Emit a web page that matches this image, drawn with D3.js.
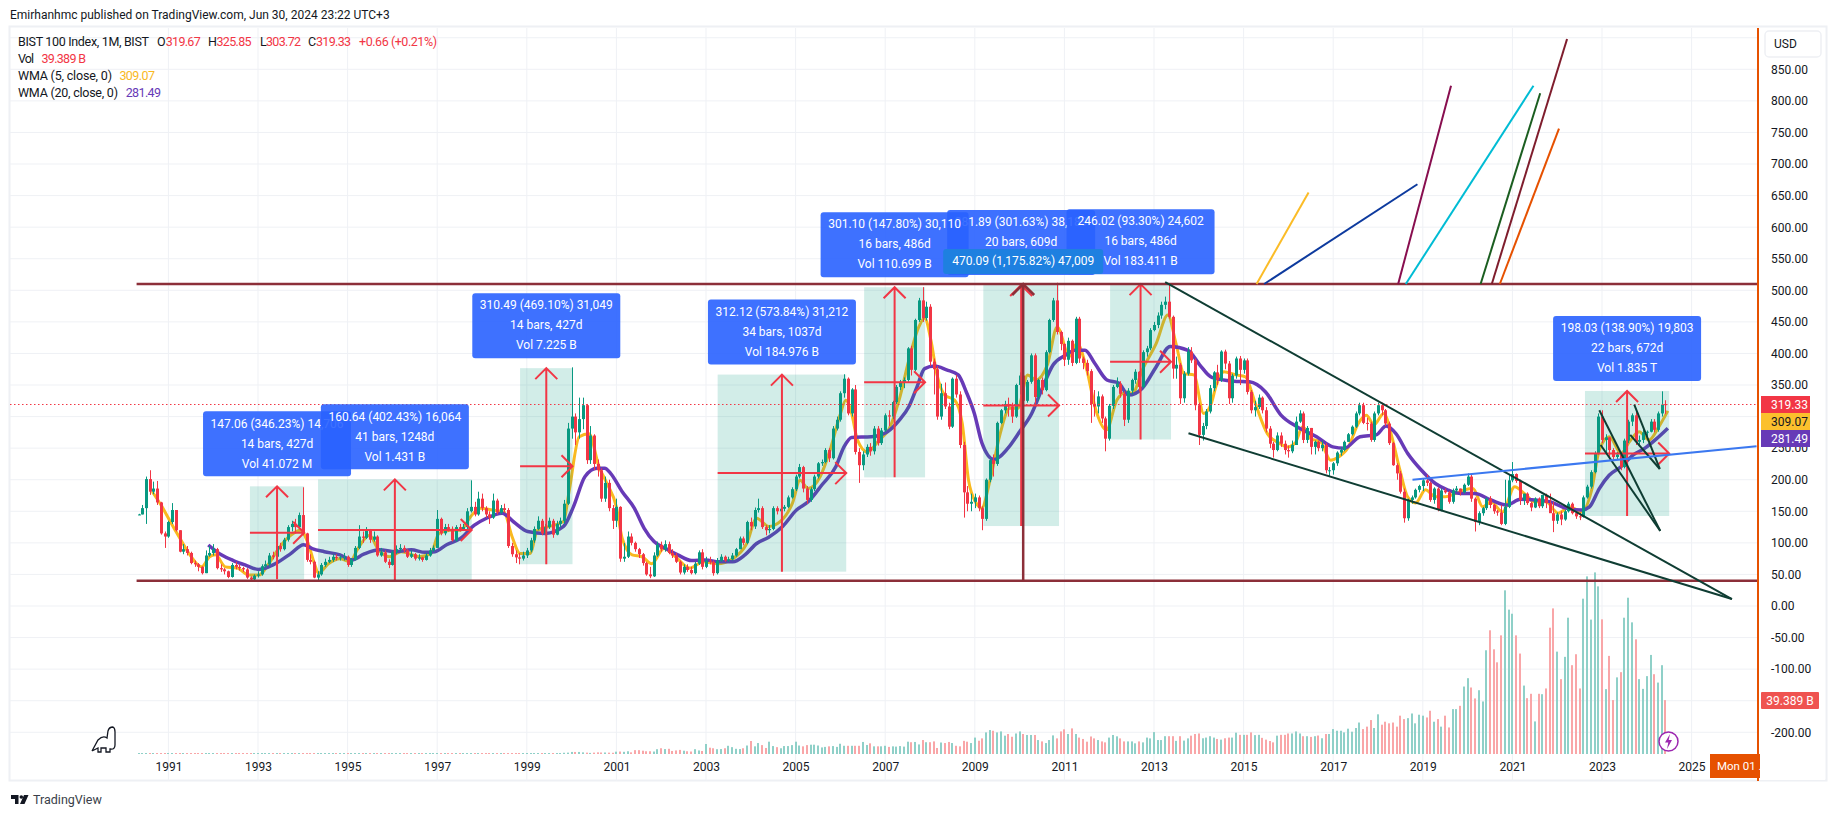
<!DOCTYPE html>
<html>
<head>
<meta charset="utf-8">
<title>BIST 100 Index, 1M</title>
<script src="https://cdn.jsdelivr.net/npm/d3@7"></script>
<style>
    html, body { margin: 0; padding: 0; background: #fff; overflow: hidden; }
    text { font-family: Roboto, "Noto Sans", sans-serif; }
</style>
</head>
<body>
<div id="chart"></div>
<script>
// Monthly bars, May 1990 to June 2024. The open of a bar is the close before it.
const firstBarYear = 1990 + 4 / 12;
const firstOpen = 145;
const lastOpen = 319.67;

const closes = [
    145,155,201,181,186,164,115,110,
    133,152,120,86,90,84,68,66,62,52,80,84,
    90,60,58,55,46,65,62,60,58,45,42,48,
    50,63,66,80,78,95,90,105,125,130,125,144,
    115,73,70,45,50,65,70,73,78,76,77,78,
    65,73,92,110,108,120,105,110,80,85,70,65,
    85,90,92,88,78,82,75,77,73,80,88,92,
    138,115,125,122,104,125,122,125,150,157,145,170,
    155,145,140,167,148,155,152,95,82,77,75,80,
    88,104,122,135,115,125,135,113,130,135,162,281,
    300,275,296,318,231,270,225,215,170,195,155,135,
    157,75,78,110,100,90,82,68,50,47,80,97,
    90,98,84,80,70,53,62,57,52,67,85,62,
    72,70,52,72,78,72,74,80,90,107,100,133,
    126,152,155,125,120,122,155,150,154,157,172,185,
    205,220,186,168,185,205,226,228,247,234,281,295,
    337,360,305,343,244,223,240,252,245,281,258,278,
    302,300,323,347,355,358,408,374,453,484,456,474,
    387,375,300,337,316,284,360,335,255,180,162,165,
    172,155,138,200,231,225,290,310,320,316,300,350,
    365,325,355,397,331,358,342,402,453,484,434,415,
    390,420,385,455,392,385,372,320,316,332,297,265,
    317,347,352,336,295,341,358,371,347,402,408,437,
    445,460,477,482,458,376,382,329,368,403,389,318,
    271,285,308,345,370,358,403,384,329,365,392,374,
    389,339,310,315,330,310,281,257,247,270,257,247,
    245,255,292,305,263,282,252,260,250,255,215,215,
    226,243,247,260,272,284,305,318,290,289,263,305,
    318,310,289,258,223,210,181,139,168,172,184,190,
    199,195,168,186,152,183,180,165,183,186,180,192,
    205,170,133,147,155,170,160,150,148,130,157,199,
    209,198,168,178,163,156,170,158,176,163,147,135,
    145,137,150,162,147,142,141,172,189,212,242,300,
    263,267,247,236,240,220,262,292,302,260,263,275,
    276,292,279,305,319,319.33
];

const highs = [
    146,160,205,215,197,198,165,118,
    135,163,152,120,98,95,86,72,68,63,88,95,
    98,92,66,60,56,68,70,66,62,60,47,50,
    55,66,72,84,86,100,100,108,128,135,138,148,
    188,116,82,72,55,68,75,78,82,82,80,84,
    80,76,95,128,118,125,122,118,112,92,88,74,
    88,96,98,96,90,88,84,82,78,84,92,96,
    152,140,130,130,126,128,130,130,155,199,165,181,
    178,158,150,178,170,160,162,155,100,88,84,86,
    92,108,126,142,138,130,140,138,135,140,168,290,
    378,305,330,330,320,285,272,232,218,205,200,160,
    170,158,100,118,115,102,92,84,70,62,85,102,
    102,104,102,90,84,72,66,66,62,70,88,90,
    78,78,72,76,82,80,78,84,92,110,110,135,
    140,156,170,158,128,128,158,158,158,160,175,188,
    208,225,222,190,188,208,228,232,250,250,285,300,
    340,367,362,345,350,250,245,256,258,285,285,282,
    305,310,325,350,358,362,410,412,455,488,505,482,
    478,392,380,352,354,322,362,366,340,260,190,178,
    178,175,158,202,234,240,292,312,325,330,322,352,
    370,368,358,400,400,360,362,405,455,488,512,436,
    416,425,422,458,458,395,390,375,342,340,335,300,
    320,350,362,356,340,345,360,375,372,405,412,440,
    450,465,482,490,511,460,395,385,372,410,410,392,
    322,290,312,350,372,382,405,406,388,368,395,396,
    392,392,342,325,335,332,315,285,260,275,275,262,
    254,262,300,310,308,285,282,262,262,262,258,220,
    228,245,252,262,274,286,308,322,322,298,292,308,
    322,322,312,292,260,226,214,186,170,175,186,192,
    202,208,197,188,188,186,186,182,186,190,186,194,
    210,208,172,150,157,172,174,162,152,160,200,207,
    228,210,200,178,180,165,172,172,160,178,178,165,
    148,150,152,165,164,150,148,175,192,215,245,305,
    310,272,268,250,244,240,265,295,305,308,270,280,
    278,296,296,308,340,325.85
];

const lows = [
    144,145,130,176,177,160,113,92,
    108,130,118,85,82,80,66,62,55,50,52,78,
    80,58,54,50,44,45,58,56,54,43,38,40,
    45,48,60,62,74,76,86,88,102,118,115,122,
    112,70,66,44,40,48,62,68,70,72,72,72,
    62,62,72,90,100,106,100,102,78,78,68,60,
    64,82,86,84,76,76,72,72,70,72,78,86,
    92,112,112,118,102,102,118,120,122,148,142,143,
    150,140,130,138,145,145,148,92,78,68,66,72,
    76,85,100,120,112,112,122,108,112,125,130,160,
    265,255,265,280,225,225,215,205,165,165,150,122,
    125,70,70,76,96,86,76,64,48,44,46,78,
    86,86,82,76,68,50,50,54,50,50,65,58,
    60,66,48,50,70,70,70,72,78,90,96,98,
    120,122,148,122,112,115,120,145,148,150,155,170,
    182,202,180,162,165,182,202,222,226,228,232,278,
    292,330,302,300,240,195,215,236,238,240,254,255,
    276,285,296,320,342,345,355,365,372,450,450,452,
    380,335,295,295,312,280,282,330,250,140,150,150,
    155,150,120,135,196,205,222,288,305,300,290,298,
    335,320,322,352,320,325,335,340,400,450,430,405,
    380,382,380,383,385,375,365,290,300,305,290,245,
    262,312,345,330,285,290,335,352,340,345,395,405,
    435,440,455,470,455,360,360,320,322,365,385,310,
    255,262,280,305,340,350,355,375,320,322,360,350,
    368,335,305,300,312,305,275,250,235,245,252,240,
    235,242,255,290,258,258,240,240,245,245,210,205,
    208,222,238,245,260,270,282,302,288,278,260,260,
    302,302,285,255,222,200,178,132,135,162,170,180,
    182,190,165,162,150,150,178,162,162,180,175,178,
    190,165,118,128,143,152,155,146,143,128,128,155,
    196,195,160,160,160,150,155,155,155,155,160,117,
    130,128,135,148,145,138,136,140,170,186,210,240,
    258,240,232,232,232,215,218,258,285,255,255,258,
    265,275,275,276,300,303.72
];

// Volume in billions
const volumes = [
    .001,.001,.002,.002,.001,.001,.002,.001,
    .002,.002,.003,.002,.003,.002,.003,.002,.003,.003,.003,.003,
    .003,.003,.003,.002,.003,.002,.002,.002,.003,.003,.003,.003,
    .003,.003,.003,.003,.003,.003,.003,.003,.003,.003,.004,.004,
    .01,.01,.01,.02,.02,.02,.02,.02,.02,.02,.03,.03,
    .03,.03,.03,.04,.04,.03,.03,.03,.03,.03,.03,.03,
    .03,.03,.03,.04,.04,.03,.03,.03,.03,.03,.04,.04,
    .05,.05,.05,.05,.06,.06,.07,.07,.08,.09,.08,.08,
    .1,.1,.1,.12,.12,.1,.1,.1,.08,.08,.1,.12,
    .4,.4,.5,.6,.7,.5,.4,.5,.5,.6,.9,1,
    1.5,1.5,1.5,1.2,1,.8,1,1.2,1.1,1.1,1,.9,
    1.7,1.8,1.6,2,1.2,2.8,2.8,2.4,2,2,1.8,3.5,
    4.2,3.6,3.8,2.2,2.6,3,2.4,2,1.8,3.5,2.6,2.2,
    7.3,4.6,4.2,3.5,3.6,4.2,6,5,3.8,3.6,4.2,6.2,
    9.5,5.6,8,6.5,4.4,9,5.8,5,4.2,5.8,5.8,6.5,
    9,6.2,5.6,6.5,6.8,6.8,6.2,4.8,5.2,5.6,5.8,5.2,
    7.5,6,6,6,6,6,8.8,6.6,7.8,5.6,5.6,5.6,
    6,5.2,5.6,5.4,5.8,5.4,9,8.6,8.8,7,10.2,8.6,
    8.6,9.2,4.4,8.4,8,8.8,8,6,5.6,9.6,9,8,
    12,9.7,11.4,15.8,17.5,17,15.8,16.5,13.4,14.6,12.6,15,
    16.5,14.6,13.9,13.9,13.9,10.2,9.2,8,10.2,13.6,11.4,16.5,
    18,14.6,18.7,14.6,12,11,9,12.8,11.4,10.2,9.2,8.5,
    12,13.9,12.9,11.4,9.2,9.2,9.2,7.8,9.2,8.5,12,11.4,
    16,10.2,10.2,13,13,13,9.6,13,9.8,11.4,13.4,14.6,
    15,11.5,12,13,12,11,10.5,11.5,12,12,15.6,14,
    14,14,15.8,13.8,14,11.8,10.5,9.5,8.5,13.4,14,14,
    15,15,16.5,15,13,13,12.5,13,13.5,11.5,14.6,14.6,
    18.2,17,17,15.8,18.5,16.3,19,23,18.2,20,24.8,19,
    29,21.4,23.6,22.4,23,20,28,25.5,26.2,29.6,22.4,28.7,
    28,26.7,31.6,23.6,25.5,20,28,19.4,32.8,32.8,35.2,49.3,
    55.4,48.6,40.6,46.6,38.4,75.8,90.4,76.5,67,86.7,119.6,105.5,
    102.5,86.7,73.4,50,40.8,44,23.8,44,43.7,47.9,92.3,106.4,
    74.8,54.7,71,99.6,64.9,72.9,47.9,113.5,129.8,98.2,132.7,122.5,
    98.4,47.4,71.7,39.4,56,59.8,99.6,114.2,96.2,83.8,54.7,47.6,
    56.9,72.4,58.3,52.2,64.9,39.389
];

// Moving averages at the turning points
const wma5Years = [1990.64,1990.86,1991.04,1991.26,1991.48,1991.74,1991.92,1992.05,1992.27,1992.54,1992.8,1993.02,1993.24,1993.46,1993.73,1993.95,1994.12,1994.26,1994.35,1994.57,1994.83,1995.05,1995.23,1995.49,1995.67,1995.93,1996.2,1996.6,1996.86,1997.04,1997.3,1997.52,1997.74,1997.96,1998.23,1998.49,1998.67,1998.85,1999.07,1999.24,1999.51,1999.82,1999.95,2000.17,2000.39,2000.61,2000.79,2001,2001.13,2001.35,2001.57,2001.79,2002.06,2002.32,2002.63,2002.94,2003.25,2003.6,2003.91,2004.13,2004.4,2004.66,2004.93,2005.1,2005.28,2005.55,2005.77,2005.99,2006.12,2006.25,2006.38,2006.6,2006.87,2007.09,2007.31,2007.53,2007.75,2007.88,2008.02,2008.15,2008.33,2008.55,2008.72,2008.86,2009.03,2009.15,2009.34,2009.56,2009.78,2009.96,2010.18,2010.36,2010.62,2010.84,2011.11,2011.28,2011.5,2011.68,2011.94,2012.17,2012.39,2012.52,2012.74,2013.05,2013.31,2013.49,2013.67,2013.89,2014.11,2014.28,2014.38,2014.56,2014.82,2015.04,2015.26,2015.53,2015.79,2015.97,2016.15,2016.32,2016.5,2016.72,2016.94,2017.12,2017.34,2017.56,2017.74,2017.91,2018.13,2018.31,2018.49,2018.66,2018.84,2019.06,2019.28,2019.5,2019.72,2019.94,2020.12,2020.34,2020.52,2020.78,2021.05,2021.27,2021.49,2021.75,2022.02,2022.28,2022.55,2022.77,2022.94,2023.16,2023.43,2023.61,2023.83,2024.05,2024.27,2024.47];
const wma5Values = [181,157,134,107,81,62,78,81,62,60,49,49,67,91,112,120,99,67,52,67,75,70,91,112,91,78,86,78,83,115,120,120,141,155,152,149,110,83,83,120,126,134,184,268,273,221,194,157,107,81,78,67,91,78,60,70,67,75,99,139,126,134,163,199,186,205,247,302,326,305,263,244,263,281,326,390,442,456,421,368,334,326,289,199,163,155,199,271,313,313,366,358,382,442,395,416,374,316,279,326,339,337,374,416,461,416,368,366,305,321,347,371,366,363,321,273,258,252,258,284,265,260,231,236,252,289,302,287,305,268,215,173,163,184,173,173,178,184,186,157,165,149,189,178,165,165,147,157,149,184,247,268,242,260,276,263,284,309.07];

const wma20Years = [1991.89,1992.18,1992.45,1992.71,1993.01,1993.24,1993.46,1993.73,1994.02,1994.21,1994.48,1994.83,1995.1,1995.36,1995.71,1996.07,1996.42,1996.73,1996.95,1997.21,1997.52,1997.83,1998.1,1998.45,1998.71,1999.02,1999.42,1999.82,2000.04,2000.3,2000.57,2000.74,2000.87,2001.13,2001.4,2001.62,2001.84,2002.1,2002.37,2002.68,2002.99,2003.29,2003.6,2003.87,2004.13,2004.4,2004.71,2005.02,2005.28,2005.59,2005.9,2006.08,2006.25,2006.69,2007.05,2007.31,2007.53,2007.71,2007.88,2008.1,2008.37,2008.63,2008.81,2008.99,2009.16,2009.43,2009.74,2010,2010.27,2010.49,2010.75,2011.02,2011.24,2011.46,2011.68,2011.95,2012.21,2012.43,2012.74,2013.05,2013.36,2013.76,2014.02,2014.29,2014.78,2015.13,2015.49,2015.84,2016.19,2016.63,2016.99,2017.25,2017.6,2017.96,2018.18,2018.4,2018.66,2018.97,2019.28,2019.55,2019.85,2020.16,2020.52,2020.87,2021.18,2021.49,2021.84,2022.19,2022.55,2022.72,2022.94,2023.16,2023.43,2023.69,2023.96,2024.22,2024.47];
const wma20Values = [96.6,81,72,65,58,62,70,83,97,91,86,81,73,82,89,86,89,85,86,97,107,128,139,147,133,118,115,126,157,205,218,218,210,181,155,123,102,91,81,72,73,70,70,81,99,109,126,152,165,192,221,252,267,268,276,294,316,347,376,380,374,366,339,305,258,232,250,276,305,342,382,397,405,405,384,358,353,334,345,379,411,405,382,362,356,355,339,302,284,268,252,250,268,271,285,273,242,215,194,184,178,178,168,160,169,168,165,155,152,157,186,207,221,239,250,265,281.49];

const yearTicks = [1991,1993,1995,1997,1999,2001,2003,2005,2007,2009,2011,2013,2015,2017,2019,2021,2023,2025];
const priceGrid = [900,850,800,750,700,650,600,550,500,450,400,350,300,250,200,150,100,50,0,-50,-100,-150,-200];
const priceLabels = [850,800,750,700,650,600,550,500,450,400,350,250,200,150,100,50,0,-50,-100,-200];

// Price range tools: from/to in years, low/high in price
const ranges = [
    { from: 1992.82, to: 1994.03, low: 42.47, high: 189.53, lines: ["147.06 (346.23%) 14,706", "14 bars, 427d", "Vol 41.072 M"] },
    { from: 1994.34, to: 1997.77, low: 39.92, high: 200.56, lines: ["160.64 (402.43%) 16,064", "41 bars, 1248d", "Vol 1.431 B"] },
    { from: 1998.85, to: 2000.02, low: 66.19, high: 376.68, lines: ["310.49 (469.10%) 31,049", "14 bars, 427d", "Vol 7.225 B"] },
    { from: 2003.26, to: 2006.13, low: 54.39, high: 366.51, lines: ["312.12 (573.84%) 31,212", "34 bars, 1037d", "Vol 184.976 B"] },
    { from: 2009.19, to: 2010.88, low: 126.61, high: 508.5, lines: ["381.89 (301.63%) 38,189", "20 bars, 609d", "Vol 138.2 B"] },
    { from: 2006.53, to: 2007.89, low: 203.72, high: 504.82, lines: ["301.10 (147.80%) 30,110", "16 bars, 486d", "Vol 110.699 B"] },
    { from: 2012.02, to: 2013.38, low: 263.7, high: 509.72, lines: ["246.02 (93.30%) 24,602", "16 bars, 486d", "Vol 183.411 B"] },
    { from: 2022.62, to: 2024.5, low: 142.57, high: 340.6, lines: ["198.03 (138.90%) 19,803", "22 bars, 672d", "Vol 1.835 T"] }
];

const supportLevels = [510, 40];
const levelFromYear = 1990.29;
const levelToYear = 2026.54;

// Drawn lines: [year, price, year, price, colour]
const trendLines = [
    [2013.25, 513, 2025.9, 11, "#0f3d33"],
    [2013.77, 273.5, 2025.9, 11, "#0f3d33"],
    [2022.94, 310, 2024.3, 119, "#0f3d33"],
    [2022.97, 255, 2024.3, 119, "#0f3d33"],
    [2023.72, 319, 2024.29, 217, "#0f3d33"],
    [2023.63, 271, 2024.29, 217, "#0f3d33"],
    [2018.77, 200, 2026.45, 253, "#3b78f0"],
    [2015.29, 510, 2016.45, 655, "#fbbc27"],
    [2015.46, 510, 2018.88, 668, "#0d3a9e"],
    [2018.45, 510, 2019.63, 824, "#880e4f"],
    [2018.62, 510, 2021.47, 824, "#00bcd4"],
    [2020.29, 510, 2021.62, 812, "#1b5e20"],
    [2020.54, 510, 2022.22, 898, "#7f1d2d"],
    [2020.72, 510, 2022.04, 756, "#e65100"]
];

const bigMove = { year: 2010.08, low: 39.9, high: 509.99, label: "470.09 (1,175.82%) 47,009" };

const upColor = "#089981";
const downColor = "#f23645";
const levelColor = "#8c2f39";

const width = 1835;
const height = 817;

const svg = d3.select("#chart").append("svg")
    .attr("width", width)
    .attr("height", height);

// Scales
const x = d3.scaleLinear().domain([1991, 2025]).range([168.4, 1691.6]);
const y = d3.scaleLinear().domain([500, 0]).range([290.3, 606]);
const yVol = d3.scaleLinear().domain([0, 133]).range([754, 572]);

const bars = closes.map((close, i) => ({
    year: firstBarYear + i / 12,
    open: i === 0 ? firstOpen : i === closes.length - 1 ? lastOpen : closes[i - 1],
    close: close,
    high: highs[i],
    low: lows[i],
    volume: volumes[i]
}));

// Frame
svg.append("rect")
    .attr("x", 9.5).attr("y", 26.5)
    .attr("width", 1817).attr("height", 754)
    .attr("fill", "#fff").attr("stroke", "#eef0f4").attr("stroke-width", 2);

svg.append("defs").append("clipPath").attr("id", "pane")
    .append("rect").attr("x", 10).attr("y", 28).attr("width", 1752).attr("height", 752);

// Grid
svg.append("g").selectAll("line").data(yearTicks).enter().append("line")
    .attr("x1", d => x(d)).attr("x2", d => x(d))
    .attr("y1", 28).attr("y2", 781)
    .attr("stroke", "#eff1f5");

svg.append("g").selectAll("line").data(priceGrid).enter().append("line")
    .attr("x1", 10).attr("x2", 1757)
    .attr("y1", d => y(d)).attr("y2", d => y(d))
    .attr("stroke", "#eff1f5");

// Volume
svg.append("g").selectAll("rect").data(bars).enter().append("rect")
    .attr("x", d => Math.round(x(d.year)) - 1)
    .attr("width", 2)
    .attr("y", d => Math.min(yVol(d.volume), 753))
    .attr("height", d => Math.max(1, yVol(0) - yVol(d.volume)))
    .attr("fill", d => d.close >= d.open ? "#8fd0c8" : "#f9a6a8");

// Moving averages sit under the candles
function drawAverage(years, values, color, lineWidth) {
    const line = d3.line()
        .x(d => x(d[0]))
        .y(d => y(d[1]))
        .curve(d3.curveMonotoneX);
    svg.append("path")
        .attr("d", line(years.map((yr, i) => [yr, values[i]])))
        .attr("fill", "none")
        .attr("stroke", color)
        .attr("stroke-width", lineWidth)
        .attr("stroke-linejoin", "round");
}
drawAverage(wma5Years, wma5Values, "#f9b91f", 3);
drawAverage(wma20Years, wma20Values, "#673ab7", 3.5);

// Shaded boxes of the range tools
ranges.forEach(r => {
    svg.append("rect")
        .attr("x", x(r.from)).attr("y", y(r.high))
        .attr("width", x(r.to) - x(r.from)).attr("height", y(r.low) - y(r.high))
        .attr("fill", "#089981").attr("fill-opacity", 0.18);
});

// Candles
const candles = svg.append("g");
candles.selectAll("line").data(bars).enter().append("line")
    .attr("x1", d => Math.round(x(d.year)) + 0.5).attr("x2", d => Math.round(x(d.year)) + 0.5)
    .attr("y1", d => y(d.high)).attr("y2", d => y(d.low))
    .attr("stroke", d => d.close >= d.open ? upColor : downColor);

candles.selectAll("rect").data(bars).enter().append("rect")
    .attr("x", d => Math.round(x(d.year)) - 1)
    .attr("width", 3)
    .attr("y", d => y(Math.max(d.open, d.close)))
    .attr("height", d => Math.max(1, Math.abs(y(d.open) - y(d.close))))
    .attr("fill", d => d.close >= d.open ? upColor : downColor);

// Last price line
svg.append("line")
    .attr("x1", 10).attr("x2", 1757)
    .attr("y1", Math.round(y(319.33)) + 0.5).attr("y2", Math.round(y(319.33)) + 0.5)
    .attr("stroke", downColor)
    .attr("stroke-dasharray", "1.5,2.5");

// Arrows of the range tools
function arrowHead(cx, cy, dir) {
    // dir "up" or "right", head size stays fixed in pixels
    return dir === "up"
        ? `M${cx - 11},${cy + 11}L${cx},${cy}L${cx + 11},${cy + 11}`
        : `M${cx - 11},${cy - 11}L${cx},${cy}L${cx - 11},${cy + 11}`;
}

ranges.forEach(r => {
    const x0 = x(r.from), x1 = x(r.to), yTop = y(r.high), yBot = y(r.low);
    const midX = (x0 + x1) / 2, midY = (yTop + yBot) / 2;
    svg.append("path")
        .attr("d", `M${midX},${yBot}L${midX},${yTop}` + arrowHead(midX, yTop, "up")
            + `M${x0},${midY}L${x1},${midY}` + arrowHead(x1, midY, "right"))
        .attr("fill", "none").attr("stroke", downColor).attr("stroke-width", 2);
});

// Support and resistance
svg.append("g").selectAll("line").data(supportLevels).enter().append("line")
    .attr("x1", x(levelFromYear)).attr("x2", x(levelToYear))
    .attr("y1", d => y(d)).attr("y2", d => y(d))
    .attr("stroke", levelColor).attr("stroke-width", 2.5);

// The long move across the whole range
svg.append("path")
    .attr("d", `M${x(bigMove.year)},${y(bigMove.low)}L${x(bigMove.year)},${y(bigMove.high)}`
        + arrowHead(x(bigMove.year), y(bigMove.high), "up"))
    .attr("fill", "none").attr("stroke", levelColor).attr("stroke-width", 2.5);

// Trend lines
svg.append("g").attr("clip-path", "url(#pane)")
    .selectAll("line").data(trendLines).enter().append("line")
    .attr("x1", d => x(d[0])).attr("y1", d => y(d[1]))
    .attr("x2", d => x(d[2])).attr("y2", d => y(d[3]))
    .attr("stroke", d => d[4]).attr("stroke-width", 2);

// Range labels
const boxWidth = 148;
const boxHeight = 65;
ranges.forEach(r => {
    const midX = (x(r.from) + x(r.to)) / 2;
    const top = y(r.high) - 10 - boxHeight;
    const box = svg.append("g");
    box.append("rect")
        .attr("x", midX - boxWidth / 2).attr("y", top)
        .attr("width", boxWidth).attr("height", boxHeight)
        .attr("rx", 3)
        .attr("fill", "#2962ff").attr("fill-opacity", 0.9);
    box.selectAll("text").data(r.lines).enter().append("text")
        .attr("x", midX)
        .attr("y", (d, i) => top + 12 + i * 20)
        .attr("dy", "0.35em")
        .attr("text-anchor", "middle")
        .attr("fill", "#fff")
        .attr("font-size", 12)
        .text(d => d);
});

// Label of the long move
const moveX = x(bigMove.year);
svg.append("rect")
    .attr("x", moveX - 80).attr("y", 249)
    .attr("width", 160).attr("height", 25)
    .attr("rx", 3)
    .attr("fill", "#1e80e0");
svg.append("text")
    .attr("x", moveX).attr("y", 261)
    .attr("dy", "0.35em")
    .attr("text-anchor", "middle")
    .attr("fill", "#fff")
    .attr("font-size", 12)
    .text(bigMove.label);

// Price scale
svg.append("rect")
    .attr("x", 1758).attr("y", 28).attr("width", 67).attr("height", 752)
    .attr("fill", "#fff");
const priceAxis = d3.axisRight(y)
    .tickValues(priceLabels)
    .tickSize(0)
    .tickPadding(0)
    .tickFormat(d => d.toFixed(2));
svg.append("g")
    .attr("transform", "translate(1771,0)")
    .call(priceAxis)
    .call(g => g.select(".domain").remove())
    .selectAll("text")
    .attr("font-size", 12).attr("fill", "#131722").attr("font-family", "Roboto");

// Time scale
const timeAxis = d3.axisBottom(x)
    .tickValues(yearTicks)
    .tickSize(0)
    .tickPadding(0)
    .tickFormat(d3.format("d"));
svg.append("g")
    .attr("transform", "translate(0,762)")
    .call(timeAxis)
    .call(g => g.select(".domain").remove())
    .selectAll("text")
    .attr("font-size", 12).attr("fill", "#131722").attr("font-family", "Roboto");

svg.append("line")
    .attr("x1", 1758).attr("x2", 1758)
    .attr("y1", 28).attr("y2", 781)
    .attr("stroke", "#e65100").attr("stroke-width", 2);

// Value tags on the price scale
const tags = [
    { label: "319.33", top: 396, color: "#f23645", text: "#fff" },
    { label: "309.07", top: 413, color: "#fbc02d", text: "#131722" },
    { label: "281.49", top: 430, color: "#673ab7", text: "#fff" }
];
tags.forEach(t => {
    svg.append("rect")
        .attr("x", 1761).attr("y", t.top).attr("width", 49).attr("height", 17)
        .attr("fill", t.color);
    svg.append("text")
        .attr("x", 1771).attr("y", t.top + 8.5).attr("dy", "0.35em")
        .attr("font-size", 12).attr("fill", t.text).text(t.label);
});
svg.append("rect")
    .attr("x", 1761).attr("y", 692).attr("width", 58).attr("height", 17)
    .attr("rx", 1).attr("fill", "#ef5350");
svg.append("text")
    .attr("x", 1790).attr("y", 700.5).attr("dy", "0.35em")
    .attr("text-anchor", "middle")
    .attr("font-size", 12).attr("fill", "#fff").text("39.389 B");

// Date tag on the time scale
svg.append("rect")
    .attr("x", 1710).attr("y", 754).attr("width", 50).attr("height", 24)
    .attr("fill", "#e65100");
svg.append("text")
    .attr("x", 1717).attr("y", 766).attr("dy", "0.35em")
    .attr("font-size", 11.5).attr("fill", "#fff").text("Mon 01 .");

// Currency button
svg.append("rect")
    .attr("x", 1765).attr("y", 31).attr("width", 56).attr("height", 26)
    .attr("rx", 4)
    .attr("fill", "#fff").attr("stroke", "#eef0f4").attr("stroke-width", 1.5);
svg.append("text")
    .attr("x", 1774).attr("y", 44).attr("dy", "0.35em")
    .attr("font-size", 12).attr("fill", "#131722").text("USD");

// Header and legend
svg.append("text")
    .attr("x", 10).attr("y", 15).attr("dy", "0.35em")
    .attr("font-size", 12).attr("fill", "#131722")
    .text("Emirhanhmc published on TradingView.com, Jun 30, 2024 23:22 UTC+3");

const ink = "#131722";
// Each piece: text, left edge, width, colour
const legendRows = [
    { y: 42, pieces: [
        ["BIST 100 Index, 1M, BIST", 18, 131, ink], ["O", 157, 8, ink], ["319.67", 165.7, 35, downColor],
        ["H", 208, 8, ink], ["325.85", 216.5, 35, downColor], ["L", 260, 6, ink], ["303.72", 266, 35, downColor],
        ["C", 308, 7, ink], ["319.33", 316, 35, downColor], ["+0.66 (+0.21%)", 359, 78, downColor]] },
    { y: 59, pieces: [["Vol", 18, 16, ink], ["39.389 B", 41.5, 44.5, downColor]] },
    { y: 76, pieces: [["WMA (5, close, 0)", 18, 94, ink], ["309.07", 119.4, 35.6, "#f9b91f"]] },
    { y: 93, pieces: [["WMA (20, close, 0)", 18, 100, ink], ["281.49", 125.7, 35.3, "#673ab7"]] }
];
legendRows.forEach(row => {
    svg.append("g").selectAll("text").data(row.pieces).enter().append("text")
        .attr("x", d => d[1]).attr("y", row.y).attr("dy", "0.35em")
        .attr("font-size", 12.5)
        .attr("textLength", d => d[2])
        .attr("lengthAdjust", "spacing")
        .attr("fill", d => d[3])
        .text(d => d[0]);
});

// Dino, lightning badge and logo
svg.append("path")
    .attr("d", "M92,751L98,740Q103,735 107,738L108,731Q109,727 113,727Q115,728 115,732L115,745Q115,750 110,749L110,752L106,752L106,748L101,748L101,752L98,752L98,748L92,751")
    .attr("fill", "#fff").attr("stroke", ink).attr("stroke-width", 1.3);

svg.append("circle")
    .attr("cx", 1668.5).attr("cy", 741.5).attr("r", 9.5)
    .attr("fill", "#fff").attr("stroke", "#9c27b0").attr("stroke-width", 1.5);
svg.append("path")
    .attr("d", "M1670,734L1665,742.5L1668.3,742.5L1667,749L1672,740L1668.7,740Z")
    .attr("fill", "#9c27b0");

svg.append("path")
    .attr("d", "M11,795H18.5V804H15V799H11Z M20,804L24,795H28.5L24.5,804Z")
    .attr("fill", ink);
svg.append("circle").attr("cx", 21.3).attr("cy", 797).attr("r", 1.8).attr("fill", ink);
svg.append("text")
    .attr("x", 33).attr("y", 800).attr("dy", "0.35em")
    .attr("font-size", 12.5).attr("fill", "#3a3f4a").text("TradingView");
</script>
</body>
</html>
